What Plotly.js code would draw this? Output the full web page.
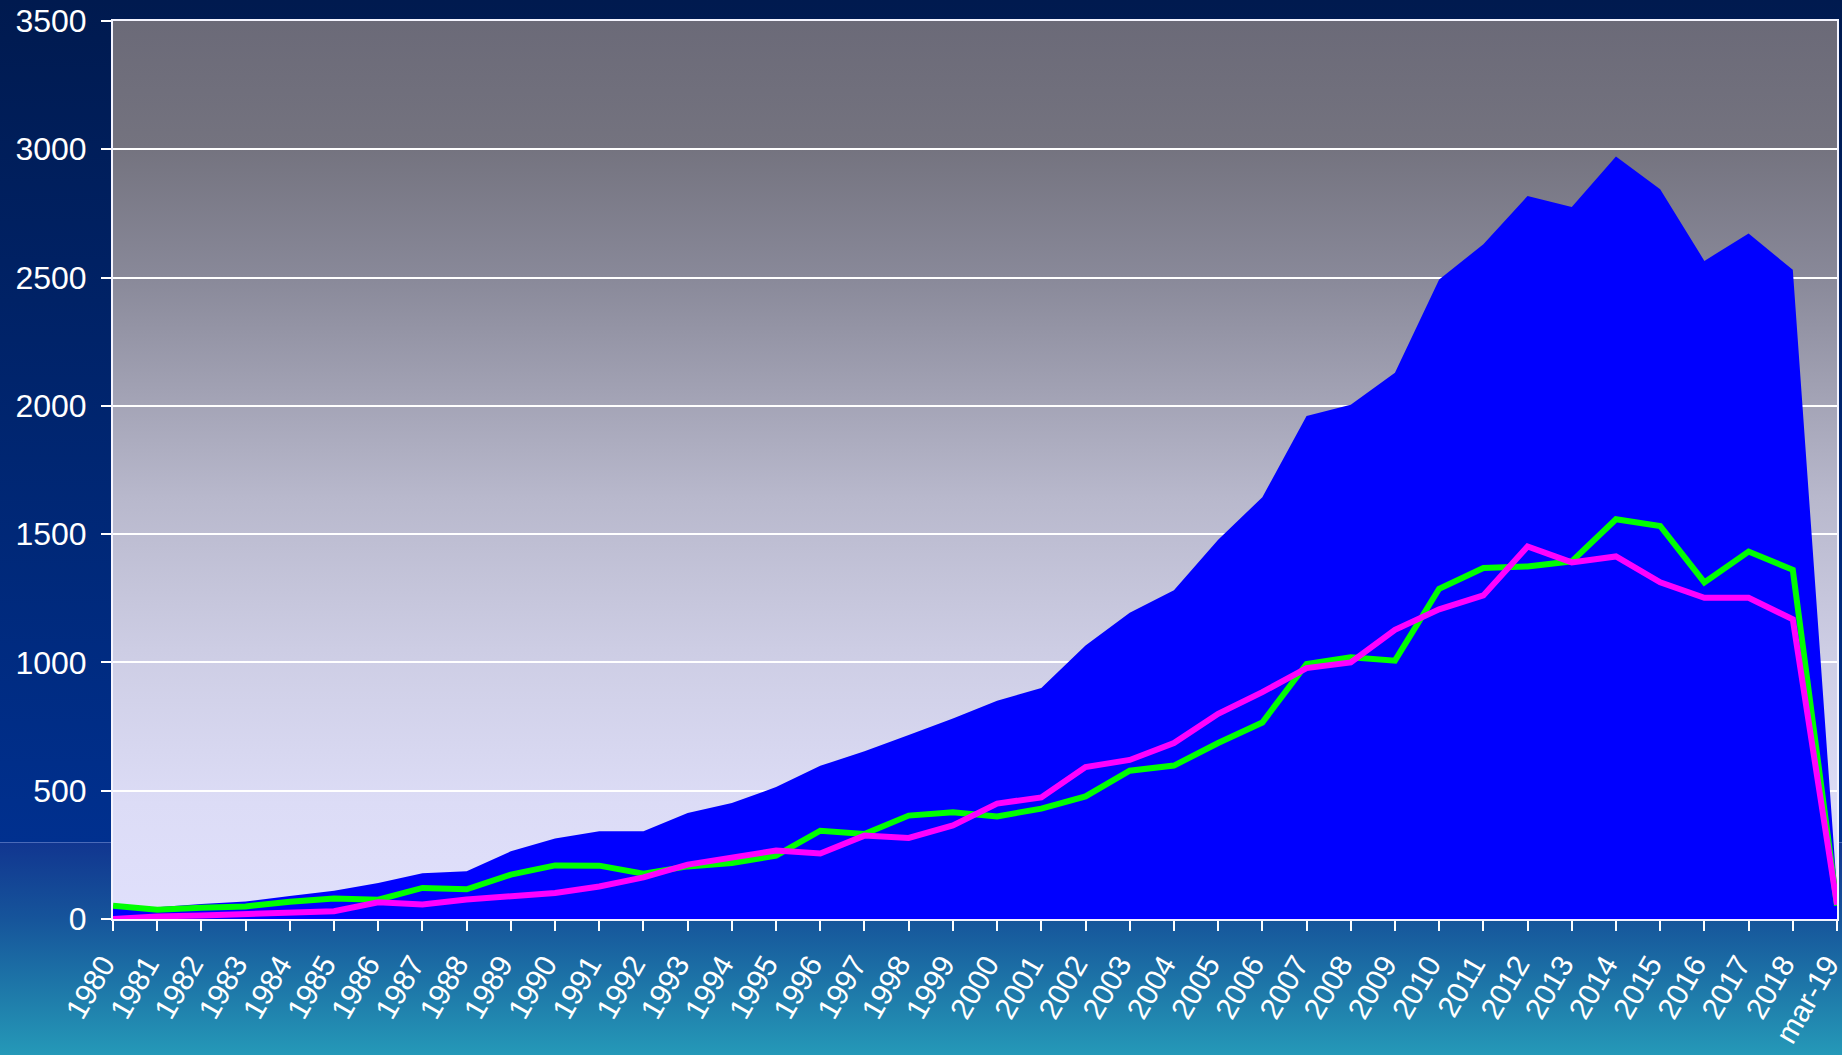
<!DOCTYPE html>
<html><head><meta charset="utf-8">
<script src="https://cdn.plot.ly/plotly-3.0.1.min.js"></script>
<style>
html,body{margin:0;padding:0;background:#001a4f;}
#wrap{position:relative;width:1842px;height:1055px;overflow:hidden;
background:linear-gradient(to bottom,#001a4f 0px,#002266 300px,#00308f 842px,#4a6ab8 842px,#4a6ab8 843px,#113690 843px,#16559b 920px,#1f7dab 1000px,#2599b8 1055px);}
#plotbg{position:absolute;left:113px;top:21px;width:1724px;height:898px;
background:linear-gradient(to bottom,#6b6a78 0%,#74737f 14%,#888898 28%,#b8b8cc 53%,#cdcde4 70%,#dcdcf6 87%,#e0e0fc 100%);}
#chart{position:absolute;left:0;top:0;width:1842px;height:1055px;}
</style></head>
<body>
<div id="wrap"><div id="plotbg"></div><div id="chart"></div></div>
<script>
const years = ['1980','1981','1982','1983','1984','1985','1986','1987','1988','1989',
  '1990','1991','1992','1993','1994','1995','1996','1997','1998','1999',
  '2000','2001','2002','2003','2004','2005','2006','2007','2008','2009',
  '2010','2011','2012','2013','2014','2015','2016','2017','2018','mar-19'];
const totals = [52, 46, 58, 68, 90, 110, 140, 178, 186, 264,
  314, 342, 342, 413, 452, 514, 597, 654, 717, 781,
  851, 900, 1066, 1194, 1281, 1478, 1644, 1960, 2004, 2129,
  2492, 2630, 2818, 2775, 2972, 2844, 2565, 2672, 2530, 110];
const greenSeries = [52, 36, 44, 49, 67, 80, 75, 121, 116, 173,
  209, 208, 177, 205, 218, 247, 344, 331, 403, 416,
  400, 430, 478, 578, 598, 686, 766, 994, 1020, 1007,
  1287, 1368, 1374, 1394, 1558, 1532, 1312, 1432, 1361, 52];
const magentaSeries = [0, 10, 14, 19, 23, 30, 65, 57, 76, 91,
  101, 127, 162, 212, 242, 267, 255, 325, 316, 365,
  450, 474, 592, 620, 686, 800, 884, 978, 1000, 1127,
  1207, 1261, 1452, 1390, 1413, 1312, 1252, 1252, 1168, 56];

const white = '#ffffff';
const font = {family: 'Liberation Sans, Arial, sans-serif', size: 32, color: white};
const xfont = {family: 'Liberation Sans, Arial, sans-serif', size: 30, color: white};

const traces = [
  {type: 'scatter', mode: 'lines', x: years, y: totals, fill: 'tozeroy',
   fillcolor: '#0000ff', line: {width: 0, color: '#0000ff'}, hoverinfo: 'skip'},
  {type: 'scatter', mode: 'lines', x: years, y: greenSeries,
   line: {width: 6, color: '#00ff00'}},
  {type: 'scatter', mode: 'lines', x: years, y: magentaSeries,
   line: {width: 6, color: '#ff00ff'}}
];

const layout = {
  width: 1842, height: 1055,
  margin: {l: 113, r: 5, t: 21, b: 136, pad: 0},
  paper_bgcolor: 'rgba(0,0,0,0)',
  plot_bgcolor: 'rgba(0,0,0,0)',
  showlegend: false,
  font: font,
  xaxis: {
    type: 'category', range: [0, 39], autorange: false,
    showgrid: false, zeroline: false,
    showline: true, linecolor: '#f4f4ff', linewidth: 2, mirror: true,
    ticks: 'outside', ticklen: 10, tickwidth: 2, tickcolor: white,
    tickangle: -60, tickfont: xfont, automargin: false,
    ticklabelstandoff: 4, ticklabelshift: -10
  },
  yaxis: {
    range: [0, 3500], autorange: false, dtick: 500, tick0: 0,
    showgrid: true, gridcolor: white, gridwidth: 2,
    zeroline: false,
    showline: true, linecolor: '#f4f4ff', linewidth: 2, mirror: true,
    ticks: 'outside', ticklen: 10, tickwidth: 2, tickcolor: white,
    tickfont: font, automargin: false, ticklabelstandoff: 8
  }
};

Plotly.newPlot('chart', traces, layout, {displayModeBar: false, staticPlot: true});
</script>
</body></html>
